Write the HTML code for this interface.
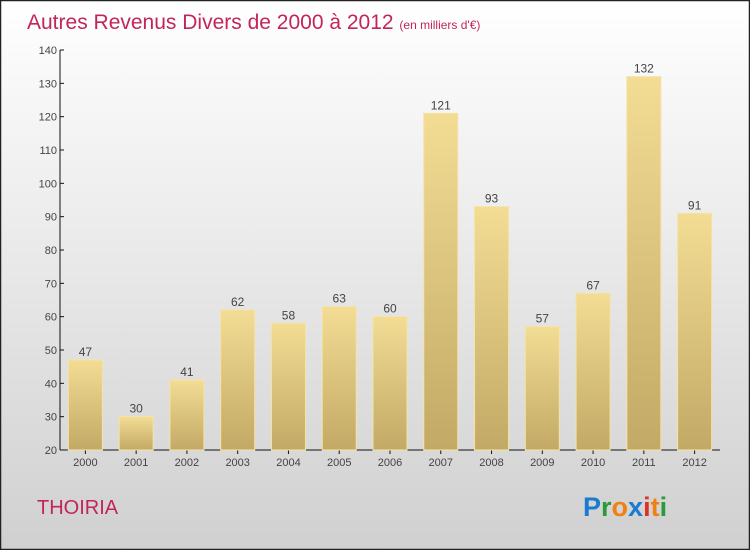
<!DOCTYPE html>
<html><head><meta charset="utf-8">
<style>
html,body{margin:0;padding:0}
body{width:750px;height:550px;overflow:hidden;font-family:"Liberation Sans",sans-serif}
</style></head>
<body>
<svg id="chart" width="750" height="550" xmlns="http://www.w3.org/2000/svg">
<defs>
<linearGradient id="bg" x1="0" y1="0" x2="0" y2="1"><stop offset="0" stop-color="#ffffff"/><stop offset="1" stop-color="#d0d0d0"/></linearGradient>
<linearGradient id="bar" x1="0" y1="0" x2="0" y2="1"><stop offset="0" stop-color="#f3dc94"/><stop offset="1" stop-color="#c2aa66"/></linearGradient>
</defs>
<rect x="0.5" y="0.5" width="749" height="549" fill="url(#bg)" stroke="#222" stroke-width="1.5"/>
<text x="27" y="29" font-size="21" fill="#c2255c">Autres Revenus Divers de 2000 à 2012 <tspan font-size="12">(en milliers d'€)</tspan></text>
<text x="37" y="514" font-size="20" fill="#c2255c">THOIRIA</text>
<g font-size="27" font-weight="bold" font-family="'Liberation Sans',sans-serif">
<text x="583" y="516"><tspan fill="#1a7bd0">P</tspan><tspan fill="#2a9a3a">r</tspan><tspan fill="#f08010">o</tspan><tspan fill="#1a7bd0">x</tspan><tspan fill="#e03020">i</tspan><tspan fill="#f08010">t</tspan><tspan fill="#2a9a3a">i</tspan></text>
</g>
<g id="axes"></g>
<g id="bars"></g>
</svg>
<script>
const years=["2000","2001","2002","2003","2004","2005","2006","2007","2008","2009","2010","2011","2012"];
const values=[47,30,41,62,58,63,60,121,93,57,67,132,91];
const yTicks=[20,30,40,50,60,70,80,90,100,110,120,130,140];
const NS="http://www.w3.org/2000/svg";
const x0=60,x1=720,yMin=20,yMax=140,pyBottom=450,pyTop=50;
const step=(x1-x0)/years.length;
function yS(v){return pyBottom-(v-yMin)/(yMax-yMin)*(pyBottom-pyTop);}
function xC(i){return x0+step*(i+0.5);}
function mk(tag,attrs,parent){const e=document.createElementNS(NS,tag);for(const k in attrs)e.setAttribute(k,attrs[k]);parent.appendChild(e);return e;}
const axes=document.getElementById('axes'),bars=document.getElementById('bars');
let a=mk('line',{x1:x0,y1:pyTop,x2:x0,y2:pyBottom,stroke:'#111'},axes);


a=mk('line',{x1:x0,y1:pyBottom,x2:x1,y2:pyBottom,stroke:'#111'},axes);


yTicks.forEach(v=>{
  const y=yS(v);
  mk('line',{x1:x0,y1:y,x2:x0+4,y2:y,stroke:'#111'},axes);
  const t=mk('text',{x:x0-3,y:y+4,'text-anchor':'end','font-size':11,fill:'#444'},axes);
  t.textContent=v;
  
  
});
years.forEach((yr,i)=>{
  const c=xC(i),v=values[i],y=yS(v);
  const r=mk('rect',{x:c-17,y:y,width:34,height:pyBottom-y,fill:'url(#bar)',stroke:'#f5e3a5','stroke-width':1},bars);
  
  
  const l=mk('text',{x:c,y:y-4,'text-anchor':'middle','font-size':12,fill:'#444'},bars);
  l.textContent=v;
  
  
  mk('line',{x1:c,y1:pyBottom,x2:c,y2:pyBottom+4,stroke:'#111'},axes);
  const t=mk('text',{x:c,y:pyBottom+16,'text-anchor':'middle','font-size':11,fill:'#444'},axes);
  t.textContent=yr;
  
  
});
</script>
</body></html>
